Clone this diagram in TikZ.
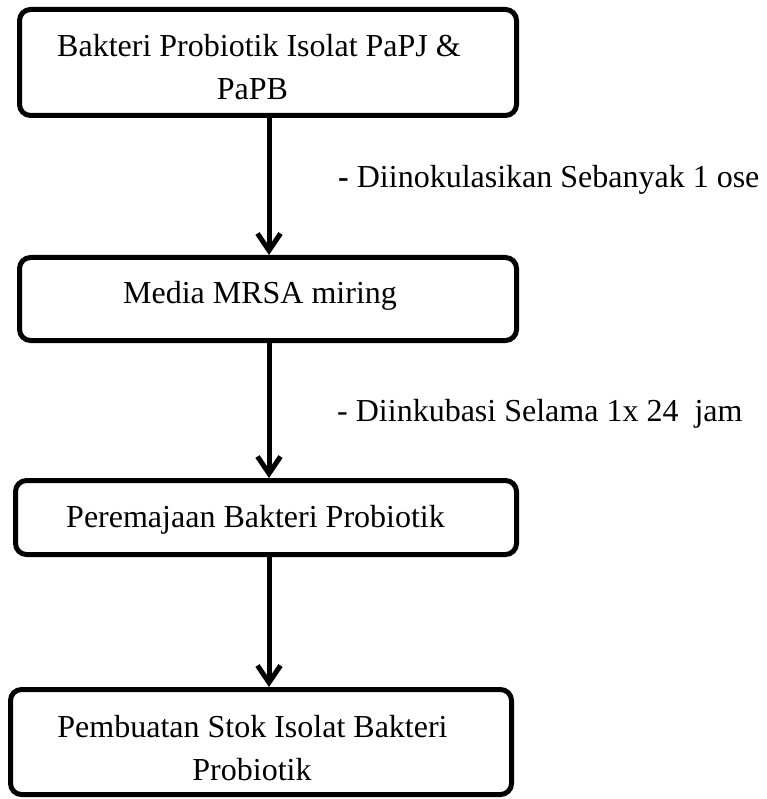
\documentclass[tikz,border=0pt]{standalone}
\usepackage{fontspec}
\setmainfont{Liberation Serif}
\usetikzlibrary{arrows.meta}
\begin{document}
\begin{tikzpicture}[x=1pt,y=-1pt,
  stepbox/.style={draw=black, line width=5pt, rounded corners=11pt, inner sep=0pt},
  steptext/.style={anchor=base, font=\fontsize{32}{43}\selectfont, inner sep=0pt},
  flow/.style={draw=black, line width=5pt,
    -{Straight Barb[length=17pt,width=23pt,line width=5pt]}},
  note/.style={anchor=base west, font=\fontsize{32}{40}\selectfont, inner sep=0pt}]
\useasboundingbox (0,0) rectangle (766,799);

% process steps (frames)
\node[stepbox, minimum width=497pt, minimum height=106pt] (b1) at (268,62.5) {};
\node[stepbox, minimum width=497pt, minimum height=83pt] (b2) at (268,299) {};
\node[stepbox, minimum width=501pt, minimum height=74pt] (b3) at (266,517.5) {};
\node[stepbox, minimum width=501pt, minimum height=105pt] (b4) at (261,742) {};

% process steps (labels)
\node[steptext] (t1a) at (259,57) {Bakteri Probiotik Isolat PaPJ \&};
\node[steptext] (t1b) at (252.5,100) {PaPB};
\node[steptext] (t2) at (260,303) {Media MRSA miring};
\node[steptext] (t3) at (255.5,527) {Peremajaan Bakteri Probiotik};
\node[steptext] (t4a) at (252.5,737) {Pembuatan Stok Isolat Bakteri};
\node[steptext] (t4b) at (252,780) {Probiotik};

% connectors
\draw[flow] (b1.south -| 269,0) -- (b2.north -| 269,0);
\draw[flow] (b2.south -| 269,0) -- (b3.north -| 269,0);
\draw[flow] (b3.south -| 269,0) -- (b4.north -| 269,0);

% step notes
\node[note] (n1) at (338,188) {\textbf{-} Diinokulasikan Sebanyak 1 ose};
\node[note] (n2) at (337,421) {- Diinkubasi Selama 1x 24\ \ jam};
\end{tikzpicture}
\end{document}
